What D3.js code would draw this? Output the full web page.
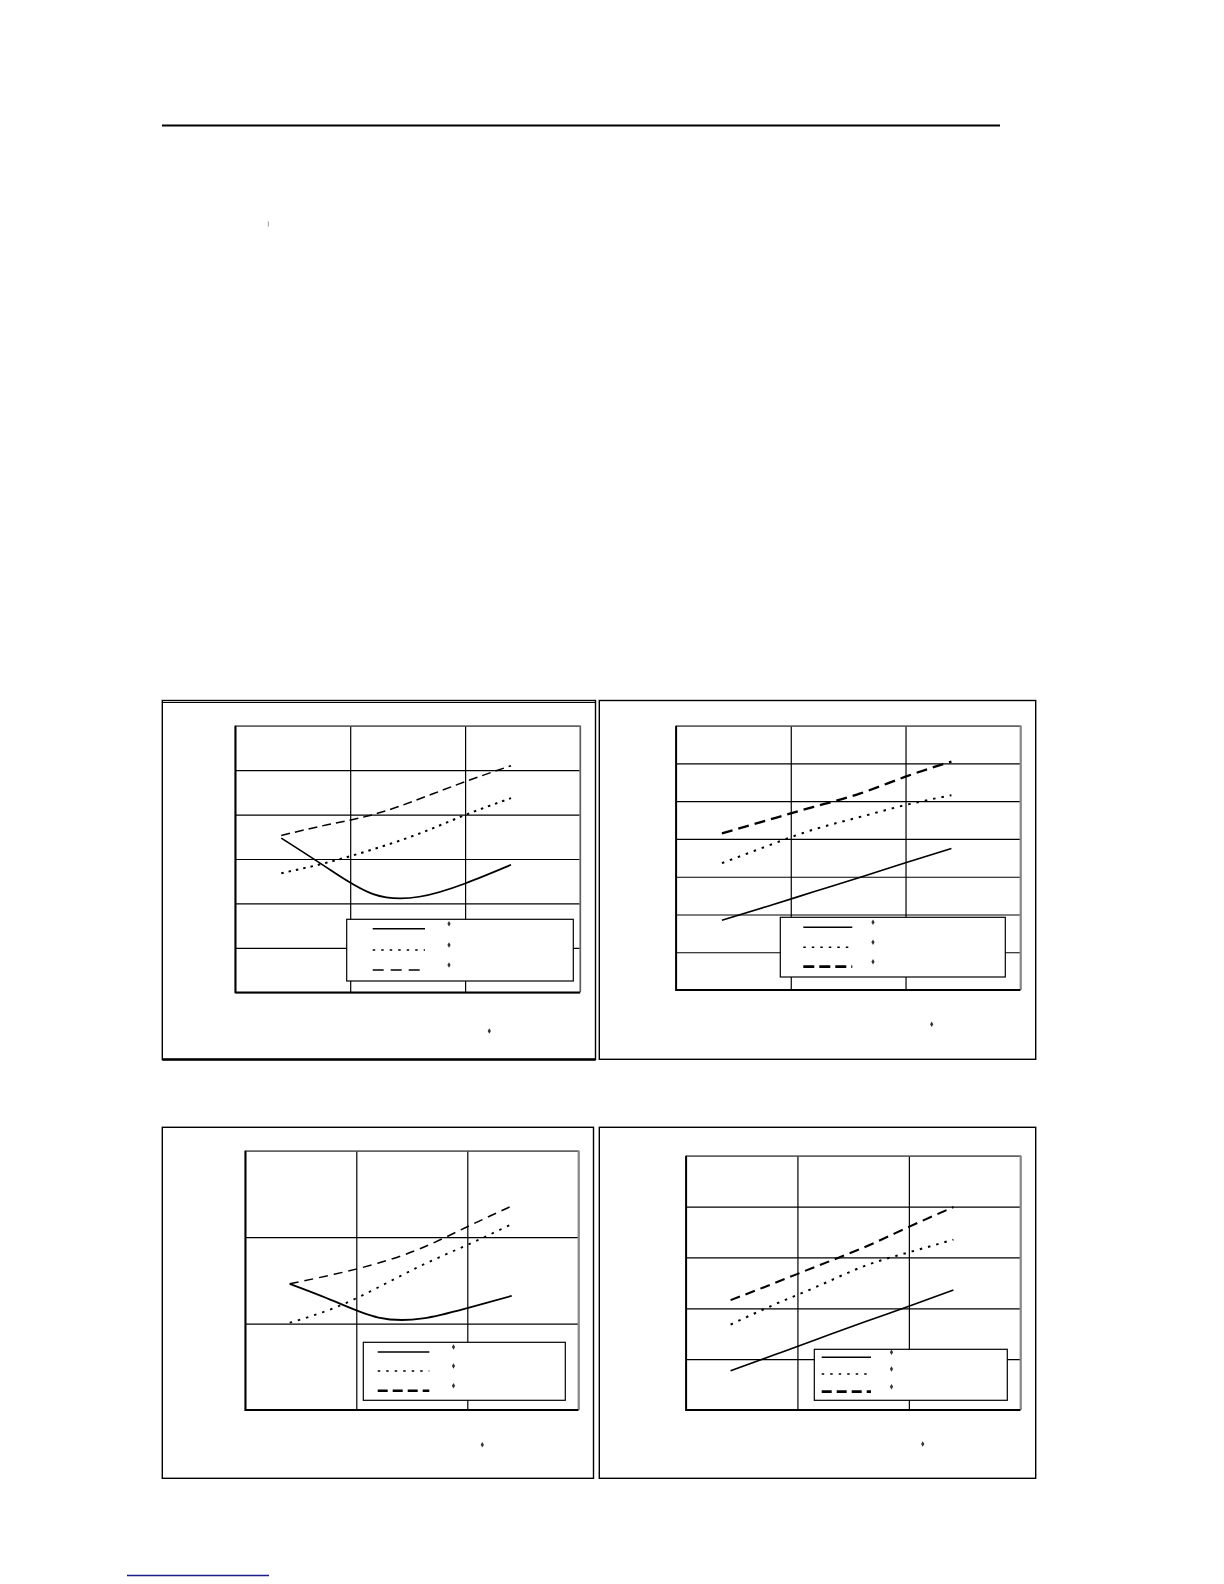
<!DOCTYPE html>
<html>
<head>
<meta charset="utf-8">
<script src="https://cdn.jsdelivr.net/npm/d3@7"></script>
<style>
  body { margin: 0; background: #fff; }
  svg { display: block; }
</style>
</head>
<body>
<svg width="1224" height="1584"></svg>
<script>
// x positions shared by every series (grid columns are 0..3)
var xTicks = [0, 1, 2, 3];
var xPoints = [0.4, 0.8, 1.2, 1.6, 2.0, 2.4];

// y grid lines per chart
var yTicks1 = [0, 1, 2, 3, 4, 5, 6];
var yTicks2 = [0, 1, 2, 3, 4, 5, 6, 7];
var yTicks3 = [0, 1, 2, 3];
var yTicks4 = [0, 1, 2, 3, 4, 5];

// chart 1 (top left)
var chart1Solid  = [3.47, 2.80, 2.21, 2.15, 2.45, 2.87];
var chart1Dotted = [2.68, 2.92, 3.22, 3.57, 3.99, 4.37];
var chart1Dashed = [3.53, 3.77, 4.00, 4.35, 4.74, 5.10];

// chart 2 (top right)
var chart2Solid  = [1.85, 2.22, 2.60, 2.98, 3.37, 3.75];
var chart2Dotted = [3.36, 3.82, 4.25, 4.58, 4.90, 5.16];
var chart2Dashed = [4.15, 4.50, 4.85, 5.20, 5.65, 6.05];

// chart 3 (bottom left)
var chart3Solid  = [1.46, 1.26, 1.07, 1.06, 1.18, 1.32];
var chart3Dotted = [1.01, 1.18, 1.42, 1.68, 1.91, 2.15];
var chart3Dashed = [1.46, 1.57, 1.70, 1.88, 2.12, 2.36];

// chart 4 (bottom right)
var chart4Solid  = [0.77, 1.09, 1.41, 1.73, 2.04, 2.36];
var chart4Dotted = [1.68, 2.08, 2.45, 2.83, 3.10, 3.35];
var chart4Dashed = [2.16, 2.50, 2.85, 3.20, 3.60, 3.99];

var svg = d3.select("svg");

// page decorations
svg.append("line")
    .attr("x1", 162).attr("x2", 1000)
    .attr("y1", 125.5).attr("y2", 125.5)
    .attr("stroke", "#000").attr("stroke-width", 2);

svg.append("line")
    .attr("x1", 268.3).attr("x2", 268.3)
    .attr("y1", 221.5).attr("y2", 226.5)
    .attr("stroke", "#999").attr("stroke-width", 1);

svg.append("line")
    .attr("x1", 127).attr("x2", 269)
    .attr("y1", 1575.5).attr("y2", 1575.5)
    .attr("stroke", "#1c1c8a").attr("stroke-width", 1.3);

var panels = [
    {
        frame: [162.3, 700.5, 595.5, 1059.5], doubleTop: true, thickBottom: true,
        plot: [235.3, 725.7, 580, 992.3], yTicks: yTicks1,
        series: [chart1Solid, chart1Dotted, chart1Dashed],
        lineStyles: [
            { dash: null, width: 1.7 },
            { dash: "2.5,5", width: 2 },
            { dash: "9,5", width: 1.5 }
        ],
        legend: [346.7, 919.3, 573.3, 981], legendLine: [372.7, 425], legendRows: [928.7, 950, 970],
        legendStyles: [
            { dash: null, width: 1.4 },
            { dash: "2.5,6", width: 1.6 },
            { dash: "11,7", width: 1.6 }
        ],
        dotX: 449, footDot: [489.3, 1031]
    },
    {
        frame: [599.3, 700.5, 1035.7, 1059.3],
        plot: [676, 725.7, 1020.3, 990], yTicks: yTicks2,
        series: [chart2Solid, chart2Dotted, chart2Dashed],
        lineStyles: [
            { dash: null, width: 1.6 },
            { dash: "2.5,6", width: 2 },
            { dash: "11,6", width: 2.3 }
        ],
        legend: [780.3, 917.3, 1005.3, 977], legendLine: [803.3, 852.3], legendRows: [927.3, 947.3, 966.7],
        legendStyles: [
            { dash: null, width: 1.4 },
            { dash: "2.5,6", width: 1.6 },
            { dash: "11,5", width: 2.8 }
        ],
        dotX: 873, footDot: [931.7, 1024.3]
    },
    {
        frame: [162.3, 1127.3, 593.5, 1478.3],
        plot: [245.3, 1150.7, 578.3, 1410], yTicks: yTicks3,
        series: [chart3Solid, chart3Dotted, chart3Dashed],
        lineStyles: [
            { dash: null, width: 1.8 },
            { dash: "2.5,6", width: 1.8 },
            { dash: "9,6", width: 1.5 }
        ],
        legend: [363.3, 1342.3, 565.3, 1400.3], legendLine: [377.7, 429.3], legendRows: [1352, 1371, 1390.7],
        legendStyles: [
            { dash: null, width: 1.4 },
            { dash: "2.5,6", width: 1.5 },
            { dash: "10,5", width: 2.6 }
        ],
        dotX: 453.5, footDot: [482.3, 1444.7]
    },
    {
        frame: [599.3, 1127.3, 1035.7, 1478.3],
        plot: [686, 1155.7, 1020.3, 1410], yTicks: yTicks4,
        series: [chart4Solid, chart4Dotted, chart4Dashed],
        lineStyles: [
            { dash: null, width: 1.6 },
            { dash: "2.5,6", width: 2 },
            { dash: "10,6", width: 2.1 }
        ],
        legend: [814.3, 1349.3, 1007.3, 1400.3], legendLine: [821.7, 871], legendRows: [1357.3, 1374, 1391.7],
        legendStyles: [
            { dash: null, width: 1.4 },
            { dash: "2.5,6", width: 1.5 },
            { dash: "10,5", width: 2.8 }
        ],
        dotX: 891.5, footDot: [922.7, 1444]
    }
];

panels.forEach(function (p) {

    var f = p.frame;
    var g = svg.append("g");

    // outer frame
    g.append("rect")
        .attr("x", f[0]).attr("y", f[1])
        .attr("width", f[2] - f[0]).attr("height", f[3] - f[1])
        .attr("fill", "none").attr("stroke", "#000").attr("stroke-width", 1.4);
    if (p.doubleTop) {
        g.append("line")
            .attr("x1", f[0]).attr("x2", f[2])
            .attr("y1", f[1] + 2).attr("y2", f[1] + 2)
            .attr("stroke", "#000").attr("stroke-width", 1);
    }
    if (p.thickBottom) {
        g.append("line")
            .attr("x1", f[0]).attr("x2", f[2])
            .attr("y1", f[3]).attr("y2", f[3])
            .attr("stroke", "#000").attr("stroke-width", 2.4);
    }

    var pl = p.plot;
    var x = d3.scaleLinear().domain([0, 3]).range([pl[0], pl[2]]);
    var y = d3.scaleLinear().domain([0, d3.max(p.yTicks)]).range([pl[3], pl[1]]);

    // grid lines through the axes
    var gridY = g.append("g")
        .attr("transform", "translate(" + pl[0] + ",0)")
        .call(d3.axisLeft(y).tickValues(p.yTicks).tickSize(-(pl[2] - pl[0])).tickFormat(""));
    var gridX = g.append("g")
        .attr("transform", "translate(0," + pl[3] + ")")
        .call(d3.axisBottom(x).tickValues(xTicks).tickSize(-(pl[3] - pl[1])).tickFormat(""));
    [gridX, gridY].forEach(function (a) {
        a.select(".domain").remove();
        a.selectAll(".tick line").attr("stroke", "#000").attr("stroke-width", 1.2);
    });

    // plot border: grey on top/right, dark on left/bottom
    g.append("path")
        .attr("d", "M" + pl[0] + "," + pl[1] + "H" + pl[2] + "V" + pl[3])
        .attr("fill", "none").attr("stroke", "#888").attr("stroke-width", 1.4);
    g.append("path")
        .attr("d", "M" + pl[0] + "," + pl[1] + "V" + pl[3] + "H" + pl[2])
        .attr("fill", "none").attr("stroke", "#000").attr("stroke-width", 1.8);

    // legend box (over the grid, under the lines)
    var lg = p.legend;
    g.append("rect")
        .attr("x", lg[0]).attr("y", lg[1])
        .attr("width", lg[2] - lg[0]).attr("height", lg[3] - lg[1])
        .attr("fill", "#fff").attr("stroke", "#000").attr("stroke-width", 1.2);

    var line = d3.line()
        .x(function (d, i) { return x(xPoints[i]); })
        .y(function (d) { return y(d); })
        .curve(d3.curveNatural);

    p.series.forEach(function (s, i) {
        var st = p.lineStyles[i];
        g.append("path")
            .attr("d", line(s))
            .attr("fill", "none")
            .attr("stroke", "#000")
            .attr("stroke-width", st.width)
            .attr("stroke-dasharray", st.dash);
    });

    // legend samples and the little markers
    var diamond = d3.symbol().type(d3.symbolDiamond).size(9);
    p.legendRows.forEach(function (ry, i) {
        var st = p.legendStyles[i];
        g.append("line")
            .attr("x1", p.legendLine[0]).attr("x2", p.legendLine[1])
            .attr("y1", ry).attr("y2", ry)
            .attr("stroke", "#000")
            .attr("stroke-width", st.width)
            .attr("stroke-dasharray", st.dash);
        g.append("path")
            .attr("d", diamond)
            .attr("transform", "translate(" + p.dotX + "," + (ry - 5) + ")")
            .attr("fill", "#333");
    });

    g.append("path")
        .attr("d", diamond)
        .attr("transform", "translate(" + p.footDot[0] + "," + p.footDot[1] + ")")
        .attr("fill", "#333");
});
</script>
</body>
</html>
